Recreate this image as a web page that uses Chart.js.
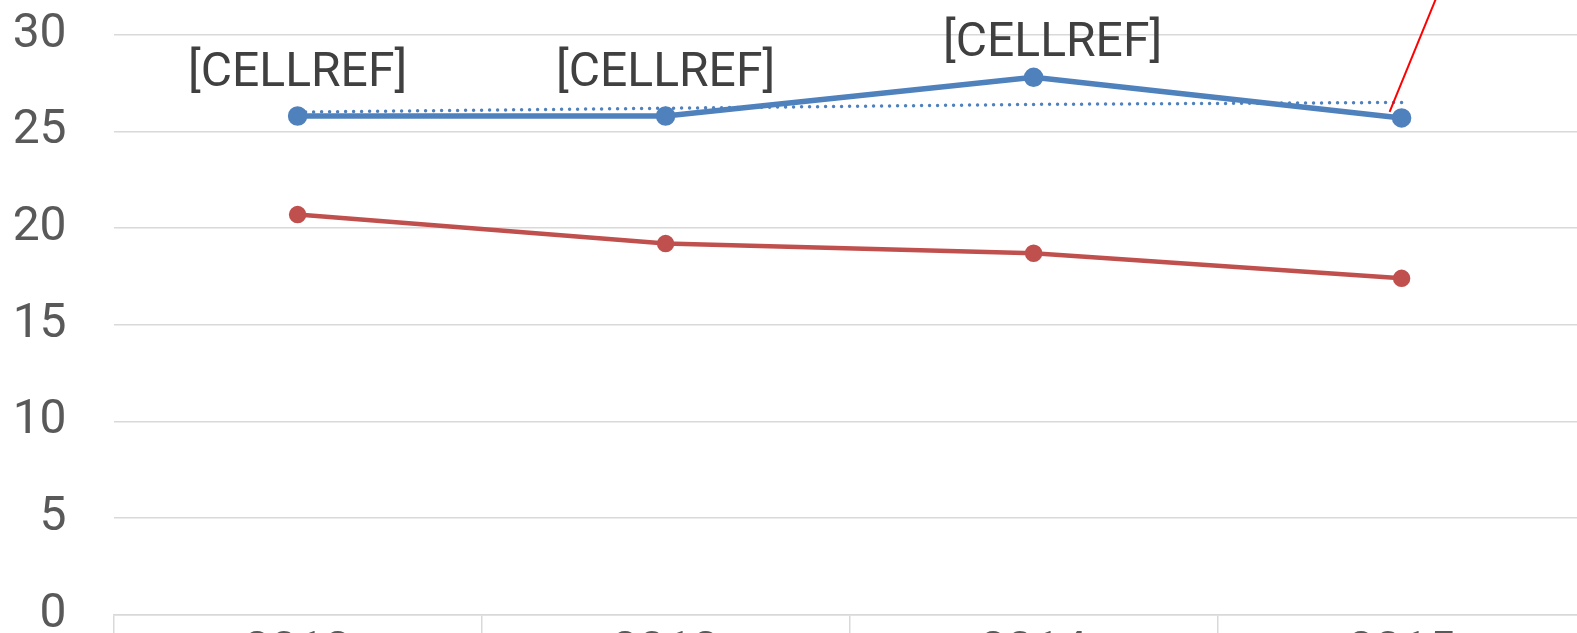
<!DOCTYPE html>
<html>
<head>
<meta charset="utf-8">
<script src="https://cdn.jsdelivr.net/npm/chart.js@4/dist/chart.umd.min.js"></script>
<style>
  html, body { margin: 0; padding: 0; background: #fff; overflow: hidden; }
  #wrap { position: relative; width: 1577px; height: 633px; overflow: hidden; }
  #c { position: absolute; left: 0; top: -41px; }
</style>
</head>
<body>
<div id="wrap"><canvas id="c" width="1600" height="741"></canvas></div>
<script>
// chart data
var years = ['2012', '2013', '2014', '2015'];
var seriesBlue = [25.8, 25.8, 27.8, 25.7];
var seriesRed = [20.7, 19.2, 18.7, 17.4];
var trendBlue = [26.0, 26.2, 26.4, 26.5];
var blueLabels = ['[CELLREF]', '[CELLREF]', '[CELLREF]', '[CELLREF]'];
var yTicks = [0, 5, 10, 15, 20, 25, 30];

var FONT = 'Roboto, "Open Sans", sans-serif';

// data labels above the blue points, plus the leader line of the last one
var labelPlugin = {
  id: 'cellLabels',
  afterDatasetsDraw: function (chart) {
    var ctx = chart.ctx;
    var meta = chart.getDatasetMeta(0);
    var ys = chart.scales.y;
    var shift = [[0, -42], [0, -42], [19, -33], [0, 0]];
    ctx.save();
    ctx.font = '48px ' + FONT;
    ctx.fillStyle = '#404040';
    ctx.textAlign = 'center';
    ctx.textBaseline = 'middle';
    meta.data.forEach(function (pt, i) {
      if (i === 3) {
        // label sits off the top, only its leader line shows
        var endY = ys.getPixelForValue(36);
        ctx.strokeStyle = '#ff0000';
        ctx.lineWidth = 2;
        ctx.beginPath();
        ctx.moveTo(pt.x - 12, pt.y - 6);
        ctx.lineTo(pt.x + 67, endY);
        ctx.stroke();
        ctx.fillText(blueLabels[i], pt.x + 67, endY - 30);
        return;
      }
      ctx.fillText(blueLabels[i], pt.x + shift[i][0], pt.y + shift[i][1]);
    });
    ctx.restore();
  }
};

new Chart(document.getElementById('c'), {
  type: 'line',
  data: {
    labels: years,
    datasets: [
      {
        data: seriesBlue,
        borderColor: '#4F81BD',
        backgroundColor: '#4F81BD',
        borderWidth: 5.5,
        pointRadius: 7,
        pointHoverRadius: 7,
        tension: 0,
        order: 2
      },
      {
        data: seriesRed,
        borderColor: '#C0504D',
        backgroundColor: '#C0504D',
        borderWidth: 4.5,
        pointRadius: 6.5,
        pointHoverRadius: 6.5,
        tension: 0,
        order: 3
      },
      {
        data: trendBlue,
        borderColor: '#4F81BD',
        borderWidth: 3.5,
        borderDash: [0, 8],
        borderCapStyle: 'round',
        pointRadius: 0,
        tension: 0,
        order: 1
      }
    ]
  },
  options: {
    responsive: false,
    animation: false,
    devicePixelRatio: 1,
    layout: { padding: { top: 34, right: 14.4, left: 0, bottom: 0 } },
    plugins: { legend: { display: false }, tooltip: { enabled: false } },
    scales: {
      x: {
        offset: true,
        grid: {
          offset: true,
          drawOnChartArea: false,
          drawTicks: true,
          tickLength: 40,
          color: '#d9d9d9',
          lineWidth: 1.5
        },
        border: { display: true, color: '#d9d9d9', width: 1.5 },
        ticks: {
          color: '#595959',
          font: { family: FONT, size: 48 },
          padding: -31,
          maxRotation: 0
        },
        afterFit: function (s) { s.height = 85.3; }
      },
      y: {
        min: 0,
        max: 30,
        afterBuildTicks: function (s) {
          s.ticks = yTicks.map(function (v) { return { value: v }; });
        },
        grid: { color: '#d9d9d9', lineWidth: 1.5, drawTicks: false },
        border: { display: false },
        ticks: {
          color: '#595959',
          font: { family: FONT, size: 48 },
          padding: 47
        },
        afterFit: function (s) { s.width = 113.6; }
      }
    }
  },
  plugins: [labelPlugin]
});
</script>
</body>
</html>
